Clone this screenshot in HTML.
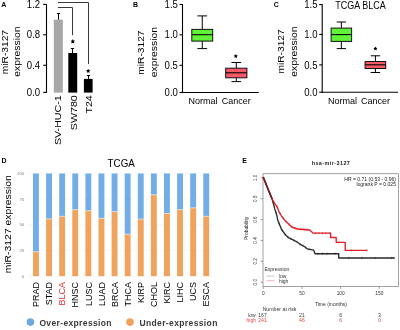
<!DOCTYPE html>
<html><head><meta charset="utf-8"><style>
html,body{margin:0;padding:0;background:#fff;width:400px;height:330px;overflow:hidden}
svg{display:block;will-change:transform;font-family:"Liberation Sans", sans-serif}
</style></head><body>
<svg width="400" height="330" viewBox="0 0 400 330">
<rect width="400" height="330" fill="#fff"/>
<text x="1.2" y="7.2" font-size="7" text-anchor="start" font-weight="bold" fill="#000" >A</text>
<text transform="translate(8.1,52.1) rotate(-90) scale(1,0.86)" font-size="10.2" text-anchor="middle" font-weight="normal" fill="#000" >miR-3127</text>
<text transform="translate(20.3,51.6) rotate(-90) scale(1,0.86)" font-size="10.4" text-anchor="middle" font-weight="normal" fill="#000" >expression</text>
<line x1="46.5" y1="4.4" x2="46.5" y2="92.9" stroke="#000" stroke-width="1.1" />
<line x1="43.2" y1="4.4" x2="46.5" y2="4.4" stroke="#000" stroke-width="1.1" />
<text transform="translate(40.2,8.0) scale(1,1.12)" font-size="9.6" text-anchor="end" font-weight="normal" fill="#000" >1.2</text>
<line x1="43.2" y1="34.8" x2="46.5" y2="34.8" stroke="#000" stroke-width="1.1" />
<text transform="translate(40.2,38.4) scale(1,1.12)" font-size="9.6" text-anchor="end" font-weight="normal" fill="#000" >0.8</text>
<line x1="43.2" y1="65.3" x2="46.5" y2="65.3" stroke="#000" stroke-width="1.1" />
<text transform="translate(40.2,68.89999999999999) scale(1,1.12)" font-size="9.6" text-anchor="end" font-weight="normal" fill="#000" >0.4</text>
<line x1="43.2" y1="92.4" x2="46.5" y2="92.4" stroke="#000" stroke-width="1.1" />
<text transform="translate(40.2,96.0) scale(1,1.12)" font-size="9.6" text-anchor="end" font-weight="normal" fill="#000" >0.0</text>
<rect x="53.8" y="19.7" width="9.0" height="72.89999999999999" fill="#a6a6a6" stroke="none" stroke-width="0" />
<rect x="68.3" y="53.0" width="8.9" height="39.599999999999994" fill="#000" stroke="none" stroke-width="0" />
<rect x="83.9" y="78.9" width="8.7" height="13.699999999999989" fill="#000" stroke="none" stroke-width="0" />
<line x1="58.5" y1="19.7" x2="58.5" y2="13.5" stroke="#000" stroke-width="1" />
<line x1="56.9" y1="13.5" x2="60.1" y2="13.5" stroke="#000" stroke-width="1" />
<line x1="72.5" y1="53.0" x2="72.5" y2="48.5" stroke="#000" stroke-width="1" />
<line x1="70.9" y1="48.5" x2="74.1" y2="48.5" stroke="#000" stroke-width="1" />
<line x1="88.5" y1="78.9" x2="88.5" y2="75.5" stroke="#000" stroke-width="1" />
<line x1="86.9" y1="75.5" x2="90.1" y2="75.5" stroke="#000" stroke-width="1" />
<polyline points="57.9,2.5 88.5,2.5 88.5,64" fill="none" stroke="#3a3a3a" stroke-width="1"/>
<polyline points="57.9,7.5 72.5,7.5 72.5,35.2" fill="none" stroke="#3a3a3a" stroke-width="1"/>
<polygon points="72.80,39.10 73.51,40.53 75.08,40.76 73.94,41.87 74.21,43.44 72.80,42.70 71.39,43.44 71.66,41.87 70.52,40.76 72.09,40.53" fill="#000"/>
<polygon points="88.20,68.70 88.88,70.07 90.39,70.29 89.29,71.36 89.55,72.86 88.20,72.15 86.85,72.86 87.11,71.36 86.01,70.29 87.52,70.07" fill="#000"/>
<text transform="translate(61.1,95.2) rotate(-90) scale(1,0.92)" font-size="10.7" text-anchor="end" font-weight="normal" fill="#000" >SV-HUC-1</text>
<text transform="translate(76.9,95.2) rotate(-90) scale(1,0.92)" font-size="10.7" text-anchor="end" font-weight="normal" fill="#000" >SW780</text>
<text transform="translate(91.9,95.2) rotate(-90) scale(1,0.92)" font-size="10.7" text-anchor="end" font-weight="normal" fill="#000" >T24</text>
<text x="133.0" y="7.2" font-size="7" text-anchor="start" font-weight="bold" fill="#000" >B</text>
<text transform="translate(144.2,52.6) rotate(-90) scale(1,0.86)" font-size="10.2" text-anchor="middle" font-weight="normal" fill="#000" >miR-3127</text>
<text transform="translate(156.9,52.1) rotate(-90) scale(1,0.86)" font-size="10.4" text-anchor="middle" font-weight="normal" fill="#000" >expression</text>
<line x1="182.5" y1="4.0" x2="182.5" y2="93.0" stroke="#000" stroke-width="1.1" />
<line x1="182.0" y1="92.5" x2="258.8" y2="92.5" stroke="#000" stroke-width="1.1" />
<line x1="179.5" y1="4.5" x2="182.5" y2="4.5" stroke="#000" stroke-width="1.1" />
<text transform="translate(177.9,8.1) scale(1,1.12)" font-size="9.6" text-anchor="end" font-weight="normal" fill="#000" >1.5</text>
<line x1="179.5" y1="34.8" x2="182.5" y2="34.8" stroke="#000" stroke-width="1.1" />
<text transform="translate(177.9,38.4) scale(1,1.12)" font-size="9.6" text-anchor="end" font-weight="normal" fill="#000" >1.0</text>
<line x1="179.5" y1="65.3" x2="182.5" y2="65.3" stroke="#000" stroke-width="1.1" />
<text transform="translate(177.9,68.89999999999999) scale(1,1.12)" font-size="9.6" text-anchor="end" font-weight="normal" fill="#000" >0.5</text>
<line x1="179.5" y1="92.5" x2="182.5" y2="92.5" stroke="#000" stroke-width="1.1" />
<text transform="translate(177.9,96.1) scale(1,1.12)" font-size="9.6" text-anchor="end" font-weight="normal" fill="#000" >0.0</text>
<line x1="202.25" y1="15.9" x2="202.25" y2="29.4" stroke="#000" stroke-width="1" />
<line x1="202.25" y1="41.1" x2="202.25" y2="48.6" stroke="#000" stroke-width="1" />
<line x1="197.4" y1="15.9" x2="207.1" y2="15.9" stroke="#000" stroke-width="1" />
<line x1="197.4" y1="48.6" x2="207.1" y2="48.6" stroke="#000" stroke-width="1" />
<rect x="191.8" y="29.4" width="20.899999999999977" height="11.700000000000003" fill="#60f236" stroke="#111" stroke-width="1" />
<line x1="191.8" y1="34.7" x2="212.7" y2="34.7" stroke="#000" stroke-width="1.1" />
<line x1="236.3" y1="62.5" x2="236.3" y2="68.2" stroke="#000" stroke-width="1" />
<line x1="236.3" y1="77.8" x2="236.3" y2="81.6" stroke="#000" stroke-width="1" />
<line x1="231.45000000000002" y1="62.5" x2="241.15" y2="62.5" stroke="#000" stroke-width="1" />
<line x1="231.45000000000002" y1="81.6" x2="241.15" y2="81.6" stroke="#000" stroke-width="1" />
<rect x="225.7" y="68.2" width="21.200000000000017" height="9.599999999999994" fill="#f85868" stroke="#111" stroke-width="1" />
<line x1="225.7" y1="72.8" x2="246.9" y2="72.8" stroke="#000" stroke-width="1.1" />
<polygon points="235.80,54.00 236.45,55.31 237.89,55.52 236.85,56.54 237.09,57.98 235.80,57.30 234.51,57.98 234.75,56.54 233.71,55.52 235.15,55.31" fill="#000"/>
<text transform="translate(203.1,103.7) scale(1,1.07)" font-size="9" text-anchor="middle" font-weight="normal" fill="#000" >Normal</text>
<text transform="translate(236.2,103.7) scale(1,1.07)" font-size="9" text-anchor="middle" font-weight="normal" fill="#000" >Cancer</text>
<text x="273.7" y="7.2" font-size="7" text-anchor="start" font-weight="bold" fill="#000" >C</text>
<text transform="translate(284.3,51.4) rotate(-90) scale(1,0.86)" font-size="10.2" text-anchor="middle" font-weight="normal" fill="#000" >miR-3127</text>
<text transform="translate(297.2,51.6) rotate(-90) scale(1,0.86)" font-size="10.4" text-anchor="middle" font-weight="normal" fill="#000" >expression</text>
<line x1="322.2" y1="4.0" x2="322.2" y2="92.7" stroke="#000" stroke-width="1.1" />
<line x1="321.7" y1="92.2" x2="398.0" y2="92.2" stroke="#000" stroke-width="1.1" />
<line x1="319.2" y1="4.6" x2="322.2" y2="4.6" stroke="#000" stroke-width="1.1" />
<text transform="translate(317.59999999999997,8.2) scale(1,1.12)" font-size="9.6" text-anchor="end" font-weight="normal" fill="#000" >1.5</text>
<line x1="319.2" y1="34.45" x2="322.2" y2="34.45" stroke="#000" stroke-width="1.1" />
<text transform="translate(317.59999999999997,38.050000000000004) scale(1,1.12)" font-size="9.6" text-anchor="end" font-weight="normal" fill="#000" >1.0</text>
<line x1="319.2" y1="64.9" x2="322.2" y2="64.9" stroke="#000" stroke-width="1.1" />
<text transform="translate(317.59999999999997,68.5) scale(1,1.12)" font-size="9.6" text-anchor="end" font-weight="normal" fill="#000" >0.5</text>
<line x1="319.2" y1="92.2" x2="322.2" y2="92.2" stroke="#000" stroke-width="1.1" />
<text transform="translate(317.59999999999997,95.8) scale(1,1.12)" font-size="9.6" text-anchor="end" font-weight="normal" fill="#000" >0.0</text>
<line x1="341.35" y1="22.0" x2="341.35" y2="28.1" stroke="#000" stroke-width="1" />
<line x1="341.35" y1="41.4" x2="341.35" y2="48.6" stroke="#000" stroke-width="1" />
<line x1="336.75" y1="22.0" x2="345.95000000000005" y2="22.0" stroke="#000" stroke-width="1" />
<line x1="336.75" y1="48.6" x2="345.95000000000005" y2="48.6" stroke="#000" stroke-width="1" />
<rect x="331.1" y="28.1" width="20.5" height="13.299999999999997" fill="#60f236" stroke="#111" stroke-width="1" />
<line x1="331.1" y1="34.6" x2="351.6" y2="34.6" stroke="#000" stroke-width="1.1" />
<line x1="375.4" y1="55.8" x2="375.4" y2="61.5" stroke="#000" stroke-width="1" />
<line x1="375.4" y1="68.5" x2="375.4" y2="72.5" stroke="#000" stroke-width="1" />
<line x1="370.7" y1="55.8" x2="380.09999999999997" y2="55.8" stroke="#000" stroke-width="1" />
<line x1="370.7" y1="72.5" x2="380.09999999999997" y2="72.5" stroke="#000" stroke-width="1" />
<rect x="365.1" y="61.5" width="20.599999999999966" height="7.0" fill="#f85868" stroke="#111" stroke-width="1" />
<line x1="365.1" y1="64.8" x2="385.7" y2="64.8" stroke="#000" stroke-width="1.1" />
<polygon points="375.40,46.50 376.05,47.81 377.49,48.02 376.45,49.04 376.69,50.48 375.40,49.80 374.11,50.48 374.35,49.04 373.31,48.02 374.75,47.81" fill="#000"/>
<text transform="translate(342.5,103.7) scale(1,1.07)" font-size="9" text-anchor="middle" font-weight="normal" fill="#000" >Normal</text>
<text transform="translate(375.5,103.7) scale(1,1.07)" font-size="9" text-anchor="middle" font-weight="normal" fill="#000" >Cancer</text>
<text transform="translate(360.6,9.0) scale(1,1.12)" font-size="9" text-anchor="middle" font-weight="normal" fill="#000" >TCGA BLCA</text>
<text x="1.6" y="163.0" font-size="7" text-anchor="start" font-weight="bold" fill="#000" >D</text>
<text transform="translate(107.6,167.0) scale(1,1.12)" font-size="9.8" text-anchor="start" font-weight="normal" fill="#000" >TCGA</text>
<text transform="translate(11.3,224.3) rotate(-90) scale(1,0.86)" font-size="10.4" text-anchor="middle" font-weight="normal" fill="#000" >miR-3127 expression</text>
<line x1="28" y1="173.5" x2="214" y2="173.5" stroke="#f0f0f0" stroke-width="0.5" />
<text x="24.2" y="174.9" font-size="4.2" text-anchor="end" font-weight="normal" fill="#7a7a7a" >100</text>
<line x1="28" y1="199.175" x2="214" y2="199.175" stroke="#f0f0f0" stroke-width="0.5" />
<text x="24.2" y="200.57500000000002" font-size="4.2" text-anchor="end" font-weight="normal" fill="#7a7a7a" >75</text>
<line x1="28" y1="224.85" x2="214" y2="224.85" stroke="#f0f0f0" stroke-width="0.5" />
<text x="24.2" y="226.25" font-size="4.2" text-anchor="end" font-weight="normal" fill="#7a7a7a" >50</text>
<line x1="28" y1="250.52499999999998" x2="214" y2="250.52499999999998" stroke="#f0f0f0" stroke-width="0.5" />
<text x="24.2" y="251.92499999999998" font-size="4.2" text-anchor="end" font-weight="normal" fill="#7a7a7a" >25</text>
<line x1="28" y1="276.2" x2="214" y2="276.2" stroke="#f0f0f0" stroke-width="0.5" />
<text x="24.2" y="277.59999999999997" font-size="4.2" text-anchor="end" font-weight="normal" fill="#7a7a7a" >0</text>
<rect x="33.0" y="173.5" width="5.9" height="78.30000000000001" fill="#72ade6" stroke="none" stroke-width="0" />
<rect x="33.0" y="251.8" width="5.9" height="24.399999999999977" fill="#f0a35c" stroke="none" stroke-width="0" />
<line x1="33.0" y1="251.8" x2="38.9" y2="251.8" stroke="#f4e8dc" stroke-width="0.7" />
<text transform="translate(39.150000000000006,282.0) rotate(-90)" font-size="9" text-anchor="end" font-weight="normal" fill="#000" >PRAD</text>
<rect x="46.1" y="173.5" width="5.9" height="45.400000000000006" fill="#72ade6" stroke="none" stroke-width="0" />
<rect x="46.1" y="218.9" width="5.9" height="57.29999999999998" fill="#f0a35c" stroke="none" stroke-width="0" />
<line x1="46.1" y1="218.9" x2="52.0" y2="218.9" stroke="#f4e8dc" stroke-width="0.7" />
<text transform="translate(52.25000000000001,282.0) rotate(-90)" font-size="9" text-anchor="end" font-weight="normal" fill="#000" >STAD</text>
<rect x="59.2" y="173.5" width="5.9" height="42.80000000000001" fill="#72ade6" stroke="none" stroke-width="0" />
<rect x="59.2" y="216.3" width="5.9" height="59.89999999999998" fill="#f0a35c" stroke="none" stroke-width="0" />
<line x1="59.2" y1="216.3" x2="65.10000000000001" y2="216.3" stroke="#f4e8dc" stroke-width="0.7" />
<text transform="translate(65.35000000000001,282.0) rotate(-90)" font-size="9" text-anchor="end" font-weight="normal" fill="#e02a2a" >BLCA</text>
<rect x="72.3" y="173.5" width="5.9" height="36.30000000000001" fill="#72ade6" stroke="none" stroke-width="0" />
<rect x="72.3" y="209.8" width="5.9" height="66.39999999999998" fill="#f0a35c" stroke="none" stroke-width="0" />
<line x1="72.3" y1="209.8" x2="78.2" y2="209.8" stroke="#f4e8dc" stroke-width="0.7" />
<text transform="translate(78.45,282.0) rotate(-90)" font-size="9" text-anchor="end" font-weight="normal" fill="#000" >HNSC</text>
<rect x="85.4" y="173.5" width="5.9" height="37.30000000000001" fill="#72ade6" stroke="none" stroke-width="0" />
<rect x="85.4" y="210.8" width="5.9" height="65.39999999999998" fill="#f0a35c" stroke="none" stroke-width="0" />
<line x1="85.4" y1="210.8" x2="91.30000000000001" y2="210.8" stroke="#f4e8dc" stroke-width="0.7" />
<text transform="translate(91.55000000000001,282.0) rotate(-90)" font-size="9" text-anchor="end" font-weight="normal" fill="#000" >LUSC</text>
<rect x="98.5" y="173.5" width="5.9" height="44.80000000000001" fill="#72ade6" stroke="none" stroke-width="0" />
<rect x="98.5" y="218.3" width="5.9" height="57.89999999999998" fill="#f0a35c" stroke="none" stroke-width="0" />
<line x1="98.5" y1="218.3" x2="104.4" y2="218.3" stroke="#f4e8dc" stroke-width="0.7" />
<text transform="translate(104.65,282.0) rotate(-90)" font-size="9" text-anchor="end" font-weight="normal" fill="#000" >LUAD</text>
<rect x="111.6" y="173.5" width="5.9" height="38.19999999999999" fill="#72ade6" stroke="none" stroke-width="0" />
<rect x="111.6" y="211.7" width="5.9" height="64.5" fill="#f0a35c" stroke="none" stroke-width="0" />
<line x1="111.6" y1="211.7" x2="117.5" y2="211.7" stroke="#f4e8dc" stroke-width="0.7" />
<text transform="translate(117.75,282.0) rotate(-90)" font-size="9" text-anchor="end" font-weight="normal" fill="#000" >BRCA</text>
<rect x="124.7" y="173.5" width="5.9" height="60.69999999999999" fill="#72ade6" stroke="none" stroke-width="0" />
<rect x="124.7" y="234.2" width="5.9" height="42.0" fill="#f0a35c" stroke="none" stroke-width="0" />
<line x1="124.7" y1="234.2" x2="130.6" y2="234.2" stroke="#f4e8dc" stroke-width="0.7" />
<text transform="translate(130.85,282.0) rotate(-90)" font-size="9" text-anchor="end" font-weight="normal" fill="#000" >THCA</text>
<rect x="137.8" y="173.5" width="5.9" height="45.599999999999994" fill="#72ade6" stroke="none" stroke-width="0" />
<rect x="137.8" y="219.1" width="5.9" height="57.099999999999994" fill="#f0a35c" stroke="none" stroke-width="0" />
<line x1="137.8" y1="219.1" x2="143.70000000000002" y2="219.1" stroke="#f4e8dc" stroke-width="0.7" />
<text transform="translate(143.95,282.0) rotate(-90)" font-size="9" text-anchor="end" font-weight="normal" fill="#000" >KIRP</text>
<rect x="150.89999999999998" y="173.5" width="5.9" height="21.30000000000001" fill="#72ade6" stroke="none" stroke-width="0" />
<rect x="150.89999999999998" y="194.8" width="5.9" height="81.39999999999998" fill="#f0a35c" stroke="none" stroke-width="0" />
<line x1="150.89999999999998" y1="194.8" x2="156.79999999999998" y2="194.8" stroke="#f4e8dc" stroke-width="0.7" />
<text transform="translate(157.04999999999995,282.0) rotate(-90)" font-size="9" text-anchor="end" font-weight="normal" fill="#000" >CHOL</text>
<rect x="164.0" y="173.5" width="5.9" height="40.0" fill="#72ade6" stroke="none" stroke-width="0" />
<rect x="164.0" y="213.5" width="5.9" height="62.69999999999999" fill="#f0a35c" stroke="none" stroke-width="0" />
<line x1="164.0" y1="213.5" x2="169.9" y2="213.5" stroke="#f4e8dc" stroke-width="0.7" />
<text transform="translate(170.14999999999998,282.0) rotate(-90)" font-size="9" text-anchor="end" font-weight="normal" fill="#000" >KIRC</text>
<rect x="177.1" y="173.5" width="5.9" height="36.30000000000001" fill="#72ade6" stroke="none" stroke-width="0" />
<rect x="177.1" y="209.8" width="5.9" height="66.39999999999998" fill="#f0a35c" stroke="none" stroke-width="0" />
<line x1="177.1" y1="209.8" x2="183.0" y2="209.8" stroke="#f4e8dc" stroke-width="0.7" />
<text transform="translate(183.24999999999997,282.0) rotate(-90)" font-size="9" text-anchor="end" font-weight="normal" fill="#000" >LIHC</text>
<rect x="190.2" y="173.5" width="5.9" height="34.400000000000006" fill="#72ade6" stroke="none" stroke-width="0" />
<rect x="190.2" y="207.9" width="5.9" height="68.29999999999998" fill="#f0a35c" stroke="none" stroke-width="0" />
<line x1="190.2" y1="207.9" x2="196.1" y2="207.9" stroke="#f4e8dc" stroke-width="0.7" />
<text transform="translate(196.34999999999997,282.0) rotate(-90)" font-size="9" text-anchor="end" font-weight="normal" fill="#000" >UCS</text>
<rect x="203.29999999999998" y="173.5" width="5.9" height="42.80000000000001" fill="#72ade6" stroke="none" stroke-width="0" />
<rect x="203.29999999999998" y="216.3" width="5.9" height="59.89999999999998" fill="#f0a35c" stroke="none" stroke-width="0" />
<line x1="203.29999999999998" y1="216.3" x2="209.2" y2="216.3" stroke="#f4e8dc" stroke-width="0.7" />
<text transform="translate(209.44999999999996,282.0) rotate(-90)" font-size="9" text-anchor="end" font-weight="normal" fill="#000" >ESCA</text>
<circle cx="30.4" cy="322.1" r="3.8" fill="#6fa8e0"/>
<text x="39.4" y="325.6" font-size="8.5" text-anchor="start" font-weight="bold" fill="#3a3a3a" letter-spacing="0.36">Over-expression</text>
<circle cx="130.0" cy="322.1" r="3.8" fill="#f2a25c"/>
<text x="139.4" y="325.6" font-size="8.5" text-anchor="start" font-weight="bold" fill="#3a3a3a" letter-spacing="0.38">Under-expression</text>
<text x="242.2" y="163.2" font-size="7" text-anchor="start" font-weight="bold" fill="#000" >E</text>
<text x="331.0" y="165.0" font-size="5.4" text-anchor="middle" font-weight="bold" fill="#222" letter-spacing="0.45">hsa-mir-3127</text>
<rect x="263.0" y="173.7" width="135.5" height="112.8" fill="none" stroke="#8a8a8a" stroke-width="0.8" />
<line x1="260.5" y1="282.2" x2="263" y2="282.2" stroke="#666" stroke-width="0.6" />
<text transform="translate(256.6,282.2) rotate(-90)" font-size="4.6" text-anchor="middle" font-weight="normal" fill="#333" >0.0</text>
<line x1="260.5" y1="261.34" x2="263" y2="261.34" stroke="#666" stroke-width="0.6" />
<text transform="translate(256.6,261.34) rotate(-90)" font-size="4.6" text-anchor="middle" font-weight="normal" fill="#333" >0.2</text>
<line x1="260.5" y1="240.48" x2="263" y2="240.48" stroke="#666" stroke-width="0.6" />
<text transform="translate(256.6,240.48) rotate(-90)" font-size="4.6" text-anchor="middle" font-weight="normal" fill="#333" >0.4</text>
<line x1="260.5" y1="219.62" x2="263" y2="219.62" stroke="#666" stroke-width="0.6" />
<text transform="translate(256.6,219.62) rotate(-90)" font-size="4.6" text-anchor="middle" font-weight="normal" fill="#333" >0.6</text>
<line x1="260.5" y1="198.76" x2="263" y2="198.76" stroke="#666" stroke-width="0.6" />
<text transform="translate(256.6,198.76) rotate(-90)" font-size="4.6" text-anchor="middle" font-weight="normal" fill="#333" >0.8</text>
<line x1="260.5" y1="177.89999999999998" x2="263" y2="177.89999999999998" stroke="#666" stroke-width="0.6" />
<text transform="translate(256.6,177.89999999999998) rotate(-90)" font-size="4.6" text-anchor="middle" font-weight="normal" fill="#333" >1.0</text>
<text transform="translate(248.1,228.4) rotate(-90)" font-size="5" text-anchor="middle" font-weight="normal" fill="#222" >Probability</text>
<line x1="263.3" y1="286.5" x2="263.3" y2="289" stroke="#666" stroke-width="0.6" />
<text x="263.3" y="295.4" font-size="4.8" text-anchor="middle" font-weight="normal" fill="#333" >0</text>
<line x1="301.975" y1="286.5" x2="301.975" y2="289" stroke="#666" stroke-width="0.6" />
<text x="301.975" y="295.4" font-size="4.8" text-anchor="middle" font-weight="normal" fill="#333" >50</text>
<line x1="340.65" y1="286.5" x2="340.65" y2="289" stroke="#666" stroke-width="0.6" />
<text x="340.65" y="295.4" font-size="4.8" text-anchor="middle" font-weight="normal" fill="#333" >100</text>
<line x1="379.325" y1="286.5" x2="379.325" y2="289" stroke="#666" stroke-width="0.6" />
<text x="379.325" y="295.4" font-size="4.8" text-anchor="middle" font-weight="normal" fill="#333" >150</text>
<text x="330.9" y="306.2" font-size="5" text-anchor="middle" font-weight="normal" fill="#333" >Time (months)</text>
<text x="396.0" y="181.0" font-size="5.05" text-anchor="end" font-weight="normal" fill="#222" >HR = 0.71 (0.53 - 0.96)</text>
<text x="396.0" y="186.2" font-size="5.05" text-anchor="end" font-weight="normal" fill="#222" >logrank P = 0.025</text>
<text x="264.5" y="270.8" font-size="5.0" text-anchor="start" font-weight="normal" fill="#333" >Expression</text>
<line x1="266.4" y1="276.1" x2="274.5" y2="276.1" stroke="#bbb" stroke-width="0.8" />
<line x1="266.4" y1="280.7" x2="274.5" y2="280.7" stroke="#f0a0a8" stroke-width="0.8" />
<text x="278.9" y="277.8" font-size="5.0" text-anchor="start" font-weight="normal" fill="#333" >low</text>
<text x="278.9" y="282.6" font-size="5.0" text-anchor="start" font-weight="normal" fill="#333" >high</text>
<polyline points="263.4,177.6 268.4,190 271.9,198.4 273.5,204 274.6,208.4 275.5,211.1 276.9,215.6 277.8,220.2 279.5,224.5 281.6,229.5 285.3,234.7 288.9,237.9 293.5,240.2 297.1,242 300.7,244.7 304.4,246.5 307.1,248.8 313.7,250.2 315,253.7 338.7,253.7 338.7,258.0 394.5,258.0" fill="none" stroke="#2a2a2a" stroke-width="1.35" stroke-linejoin="round"/>
<polyline points="271.9,198.4 274.2,202.9 276.9,206.5 279.6,212.9 281.9,216.5 284.6,220.2 288.2,223.5 291.8,227 297.3,229.0 309.7,230.0 313,233.1 330.6,233.1 330.6,237.5 336.2,237.5 336.2,242.3 345.2,242.3 345.2,250.3 367,250.3" fill="none" stroke="#e0202a" stroke-width="1.35" stroke-linejoin="round"/>
<polyline points="263.4,177.6 268.4,190 271.9,198.4" fill="none" stroke="#7a1a22" stroke-width="1.7" stroke-linecap="round"/>
<line x1="266" y1="182.94800000000006" x2="266" y2="185.14800000000005" stroke="#2a2a2a" stroke-width="0.6" />
<line x1="270" y1="192.74000000000007" x2="270" y2="194.94000000000005" stroke="#2a2a2a" stroke-width="0.6" />
<line x1="273" y1="201.15000000000003" x2="273" y2="203.35000000000002" stroke="#2a2a2a" stroke-width="0.6" />
<line x1="276" y1="211.6071428571429" x2="276" y2="213.80714285714288" stroke="#2a2a2a" stroke-width="0.6" />
<line x1="279" y1="222.13529411764705" x2="279" y2="224.33529411764704" stroke="#2a2a2a" stroke-width="0.6" />
<line x1="282" y1="228.96216216216214" x2="282" y2="231.16216216216213" stroke="#2a2a2a" stroke-width="0.6" />
<line x1="285" y1="233.17837837837837" x2="285" y2="235.37837837837836" stroke="#2a2a2a" stroke-width="0.6" />
<line x1="288" y1="236.00000000000003" x2="288" y2="238.20000000000002" stroke="#2a2a2a" stroke-width="0.6" />
<line x1="291" y1="237.85000000000002" x2="291" y2="240.05" stroke="#2a2a2a" stroke-width="0.6" />
<line x1="294" y1="239.35" x2="294" y2="241.54999999999998" stroke="#2a2a2a" stroke-width="0.6" />
<line x1="297" y1="240.85" x2="297" y2="243.04999999999998" stroke="#2a2a2a" stroke-width="0.6" />
<line x1="300" y1="243.075" x2="300" y2="245.27499999999998" stroke="#2a2a2a" stroke-width="0.6" />
<line x1="303" y1="244.71891891891892" x2="303" y2="246.9189189189189" stroke="#2a2a2a" stroke-width="0.6" />
<line x1="306" y1="246.76296296296297" x2="306" y2="248.96296296296296" stroke="#2a2a2a" stroke-width="0.6" />
<line x1="309" y1="248.10303030303032" x2="309" y2="250.3030303030303" stroke="#2a2a2a" stroke-width="0.6" />
<line x1="318" y1="252.6" x2="318" y2="254.79999999999998" stroke="#2a2a2a" stroke-width="0.6" />
<line x1="322.5" y1="252.6" x2="322.5" y2="254.79999999999998" stroke="#2a2a2a" stroke-width="0.6" />
<line x1="327" y1="252.6" x2="327" y2="254.79999999999998" stroke="#2a2a2a" stroke-width="0.6" />
<line x1="335" y1="252.6" x2="335" y2="254.79999999999998" stroke="#2a2a2a" stroke-width="0.6" />
<line x1="348.7" y1="256.9" x2="348.7" y2="259.1" stroke="#2a2a2a" stroke-width="0.6" />
<line x1="361.7" y1="256.9" x2="361.7" y2="259.1" stroke="#2a2a2a" stroke-width="0.6" />
<line x1="375.2" y1="256.9" x2="375.2" y2="259.1" stroke="#2a2a2a" stroke-width="0.6" />
<line x1="391.7" y1="256.9" x2="391.7" y2="259.1" stroke="#2a2a2a" stroke-width="0.6" />
<line x1="394" y1="256.9" x2="394" y2="259.1" stroke="#2a2a2a" stroke-width="0.6" />
<line x1="274" y1="201.40869565217395" x2="274" y2="203.60869565217394" stroke="#e0202a" stroke-width="0.6" />
<line x1="277" y1="205.6370370370371" x2="277" y2="207.83703703703708" stroke="#e0202a" stroke-width="0.6" />
<line x1="280" y1="212.42608695652171" x2="280" y2="214.6260869565217" stroke="#e0202a" stroke-width="0.6" />
<line x1="283" y1="216.90740740740742" x2="283" y2="219.1074074074074" stroke="#e0202a" stroke-width="0.6" />
<line x1="286" y1="220.38333333333333" x2="286" y2="222.58333333333331" stroke="#e0202a" stroke-width="0.6" />
<line x1="289" y1="223.17777777777778" x2="289" y2="225.37777777777777" stroke="#e0202a" stroke-width="0.6" />
<line x1="292" y1="225.97272727272727" x2="292" y2="228.17272727272726" stroke="#e0202a" stroke-width="0.6" />
<line x1="295" y1="227.06363636363636" x2="295" y2="229.26363636363635" stroke="#e0202a" stroke-width="0.6" />
<line x1="298" y1="227.95645161290324" x2="298" y2="230.15645161290323" stroke="#e0202a" stroke-width="0.6" />
<line x1="301" y1="228.1983870967742" x2="301" y2="230.3983870967742" stroke="#e0202a" stroke-width="0.6" />
<line x1="304" y1="228.44032258064516" x2="304" y2="230.64032258064515" stroke="#e0202a" stroke-width="0.6" />
<line x1="307" y1="228.68225806451613" x2="307" y2="230.88225806451612" stroke="#e0202a" stroke-width="0.6" />
<line x1="315.6" y1="232.0" x2="315.6" y2="234.2" stroke="#e0202a" stroke-width="0.6" />
<line x1="319" y1="232.0" x2="319" y2="234.2" stroke="#e0202a" stroke-width="0.6" />
<line x1="322.5" y1="232.0" x2="322.5" y2="234.2" stroke="#e0202a" stroke-width="0.6" />
<line x1="326" y1="232.0" x2="326" y2="234.2" stroke="#e0202a" stroke-width="0.6" />
<line x1="330" y1="232.0" x2="330" y2="234.2" stroke="#e0202a" stroke-width="0.6" />
<line x1="339" y1="241.20000000000002" x2="339" y2="243.4" stroke="#e0202a" stroke-width="0.6" />
<line x1="351.2" y1="249.20000000000002" x2="351.2" y2="251.4" stroke="#e0202a" stroke-width="0.6" />
<line x1="367" y1="249.20000000000002" x2="367" y2="251.4" stroke="#e0202a" stroke-width="0.6" />
<text x="279.5" y="311.2" font-size="5.2" text-anchor="middle" font-weight="normal" fill="#333" >Number at risk</text>
<text x="255.6" y="316.9" font-size="5.0" text-anchor="end" font-weight="normal" fill="#444" >low</text>
<text x="256.0" y="321.6" font-size="5.0" text-anchor="end" font-weight="normal" fill="#e04848" >high</text>
<text x="262.5" y="316.8" font-size="5.2" text-anchor="middle" font-weight="normal" fill="#444" >167</text>
<text x="262.5" y="321.6" font-size="5.2" text-anchor="middle" font-weight="normal" fill="#e04848" >241</text>
<text x="301.975" y="316.8" font-size="5.2" text-anchor="middle" font-weight="normal" fill="#444" >21</text>
<text x="301.975" y="321.6" font-size="5.2" text-anchor="middle" font-weight="normal" fill="#e04848" >46</text>
<text x="340.65" y="316.8" font-size="5.2" text-anchor="middle" font-weight="normal" fill="#444" >6</text>
<text x="340.65" y="321.6" font-size="5.2" text-anchor="middle" font-weight="normal" fill="#e04848" >6</text>
<text x="379.325" y="316.8" font-size="5.2" text-anchor="middle" font-weight="normal" fill="#444" >3</text>
<text x="379.325" y="321.6" font-size="5.2" text-anchor="middle" font-weight="normal" fill="#e04848" >0</text>
</svg>
</body></html>
